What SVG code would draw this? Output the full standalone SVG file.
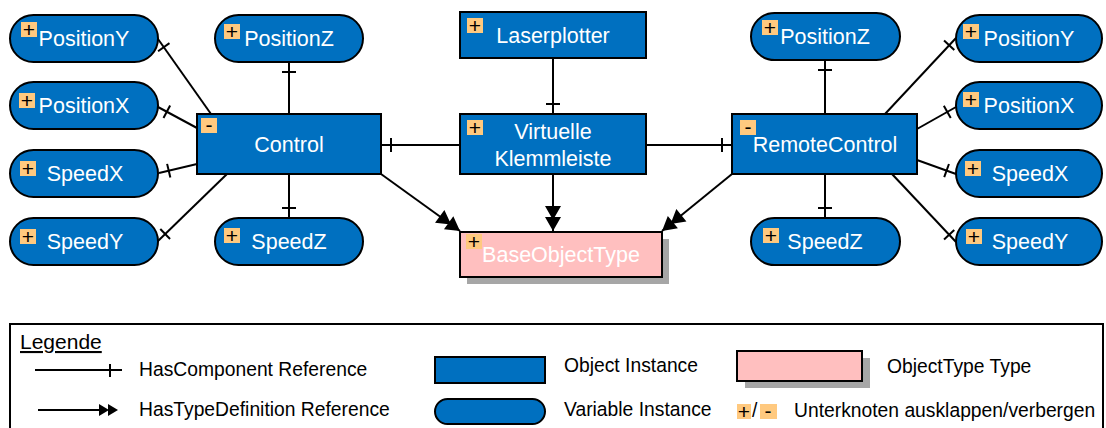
<svg xmlns="http://www.w3.org/2000/svg" width="1106" height="428" viewBox="0 0 1106 428">
<style>
.obj{fill:#0070C0;stroke:#000;stroke-width:2}
.typ{fill:#FFBFBF;stroke:#000;stroke-width:2}
.shd{fill:#A6A6A6}
.t{font-family:"Liberation Sans",Arial,sans-serif;font-size:21.5px;fill:#fff;text-anchor:middle}
.ic{fill:#FFC97F}
.it{font-family:"Liberation Sans",Arial,sans-serif;font-size:21px;fill:#000;text-anchor:middle}
.lg{font-family:"Liberation Sans",Arial,sans-serif;font-size:19.3px;fill:#000}
.c{stroke:#000;stroke-width:2;fill:none}
</style>
<defs>
<marker id="tick" markerUnits="userSpaceOnUse" viewBox="0 0 20 20" markerWidth="20" markerHeight="20" refX="20" refY="10" orient="auto" overflow="visible">
<path d="M10,3 L10,17" stroke="#000" stroke-width="2"/>
</marker>
<marker id="dbl" markerUnits="userSpaceOnUse" viewBox="0 0 26 16" markerWidth="26" markerHeight="16" refX="25" refY="8" orient="auto" overflow="visible">
<path d="M0,0 L14,8 L0,16 z M11,0 L25,8 L11,16 z" fill="#000"/>
</marker>
</defs>

<g id="connectors">
<path class="c" marker-end="url(#tick)" d="M211,114 L158,39"/>
<path class="c" marker-end="url(#tick)" d="M197,128 L158,107"/>
<path class="c" marker-end="url(#tick)" d="M197,164 L159,173"/>
<path class="c" marker-end="url(#tick)" d="M227,174 L158,241"/>
<path class="c" marker-end="url(#tick)" d="M289,114 L289,62"/>
<path class="c" marker-end="url(#tick)" d="M289,174 L289,218"/>
<path class="c" marker-end="url(#tick)" d="M460,145 L381,145"/>
<path class="c" marker-end="url(#tick)" d="M553,58 L553,114"/>
<path class="c" marker-end="url(#tick)" d="M646,145 L732,145"/>
<path class="c" marker-end="url(#tick)" d="M825,114 L825,60"/>
<path class="c" marker-end="url(#tick)" d="M825,174 L825,218"/>
<path class="c" marker-end="url(#tick)" d="M885,114 L956,38"/>
<path class="c" marker-end="url(#tick)" d="M917,129 L956,107"/>
<path class="c" marker-end="url(#tick)" d="M917,160 L956,174"/>
<path class="c" marker-end="url(#tick)" d="M892,174 L956,242"/>
<path class="c" marker-end="url(#dbl)" d="M381,174 L460,231"/>
<path class="c" marker-end="url(#dbl)" d="M553,174 L553,231"/>
<path class="c" marker-end="url(#dbl)" d="M732,174 L662,231"/>
</g>

<g id="positionY-left">
<rect class="obj" x="10" y="15" width="148" height="47" rx="23.5"/>
<rect class="ic" x="21" y="22" width="16" height="15"/><text class="it" x="29" y="37">+</text>
<text class="t" x="84" y="46">PositionY</text>
</g>
<g id="positionX-left">
<rect class="obj" x="10" y="82" width="148" height="47" rx="23.5"/>
<rect class="ic" x="19" y="93" width="16" height="15"/><text class="it" x="27" y="108">+</text>
<text class="t" x="84" y="113">PositionX</text>
</g>
<g id="speedX-left">
<rect class="obj" x="10" y="150" width="148" height="47" rx="23.5"/>
<rect class="ic" x="20" y="161" width="16" height="15"/><text class="it" x="28" y="176">+</text>
<text class="t" x="85" y="181">SpeedX</text>
</g>
<g id="speedY-left">
<rect class="obj" x="10" y="218" width="148" height="47" rx="23.5"/>
<rect class="ic" x="20" y="229" width="16" height="15"/><text class="it" x="28" y="244">+</text>
<text class="t" x="85" y="249">SpeedY</text>
</g>
<g id="positionZ-left">
<rect class="obj" x="215" y="15" width="148" height="47" rx="23.5"/>
<rect class="ic" x="224" y="24" width="16" height="15"/><text class="it" x="232" y="39">+</text>
<text class="t" x="289" y="46">PositionZ</text>
</g>
<g id="speedZ-left">
<rect class="obj" x="215" y="218" width="148" height="47" rx="23.5"/>
<rect class="ic" x="224" y="228" width="16" height="15"/><text class="it" x="232" y="243">+</text>
<text class="t" x="289" y="249">SpeedZ</text>
</g>
<g id="control">
<rect class="obj" x="197" y="114" width="184" height="60"/>
<rect class="ic" x="201" y="118" width="16" height="15"/><text class="it" x="209" y="132">-</text>
<text class="t" x="289" y="152">Control</text>
</g>
<g id="laserplotter">
<rect class="obj" x="460" y="12" width="186" height="46"/>
<rect class="ic" x="467" y="18" width="16" height="15"/><text class="it" x="475" y="33">+</text>
<text class="t" x="553" y="43">Laserplotter</text>
</g>
<g id="virtuelle-klemmleiste">
<rect class="obj" x="460" y="114" width="186" height="60"/>
<rect class="ic" x="467" y="120" width="16" height="15"/><text class="it" x="475" y="135">+</text>
<text class="t" x="553" y="139">Virtuelle</text>
<text class="t" x="553" y="166">Klemmleiste</text>
</g>
<g id="baseobjecttype">
<rect class="shd" x="467" y="239" width="202" height="45"/>
<rect class="typ" x="460" y="232" width="202" height="45"/>
<rect class="ic" x="466" y="234" width="16" height="15"/><text class="it" x="474" y="249">+</text>
<text class="t" x="561" y="262">BaseObjectType</text>
</g>
<g id="remotecontrol">
<rect class="obj" x="732" y="114" width="185" height="60"/>
<rect class="ic" x="740" y="120" width="16" height="15"/><text class="it" x="748" y="134">-</text>
<text class="t" x="825" y="152">RemoteControl</text>
</g>
<g id="positionZ-right">
<rect class="obj" x="751" y="13" width="149" height="47" rx="23.5"/>
<rect class="ic" x="762" y="20" width="16" height="15"/><text class="it" x="770" y="35">+</text>
<text class="t" x="825" y="44">PositionZ</text>
</g>
<g id="speedZ-right">
<rect class="obj" x="751" y="218" width="149" height="47" rx="23.5"/>
<rect class="ic" x="763" y="228" width="16" height="15"/><text class="it" x="771" y="243">+</text>
<text class="t" x="825" y="249">SpeedZ</text>
</g>
<g id="positionY-right">
<rect class="obj" x="956" y="15" width="146" height="47" rx="23.5"/>
<rect class="ic" x="963" y="24" width="16" height="15"/><text class="it" x="971" y="39">+</text>
<text class="t" x="1029" y="46">PositionY</text>
</g>
<g id="positionX-right">
<rect class="obj" x="956" y="82" width="146" height="47" rx="23.5"/>
<rect class="ic" x="963" y="92" width="16" height="15"/><text class="it" x="971" y="107">+</text>
<text class="t" x="1029" y="113">PositionX</text>
</g>
<g id="speedX-right">
<rect class="obj" x="956" y="150" width="146" height="47" rx="23.5"/>
<rect class="ic" x="965" y="161" width="16" height="15"/><text class="it" x="973" y="176">+</text>
<text class="t" x="1030" y="181">SpeedX</text>
</g>
<g id="speedY-right">
<rect class="obj" x="956" y="218" width="146" height="47" rx="23.5"/>
<rect class="ic" x="966" y="229" width="16" height="15"/><text class="it" x="974" y="244">+</text>
<text class="t" x="1030" y="249">SpeedY</text>
</g>

<g id="legend">
<rect x="10" y="324" width="1093" height="120" fill="none" stroke="#000" stroke-width="2"/>
<text class="lg" x="20" y="349" style="font-size:21px" text-decoration="underline">Legende</text>
<path d="M35,370 L122,370 M110,364 L110,377" stroke="#000" stroke-width="2" fill="none"/>
<text class="lg" x="139" y="376">HasComponent Reference</text>
<path d="M38,410 L104,410" stroke="#000" stroke-width="2" fill="none"/>
<path d="M99,404 L109,410 L99,416 z M108,404 L118,410 L108,416 z" fill="#000"/>
<text class="lg" x="139" y="416">HasTypeDefinition Reference</text>
<rect class="obj" x="435" y="357" width="110" height="26"/>
<text class="lg" x="564" y="372">Object Instance</text>
<rect class="obj" x="435" y="399" width="110" height="25" rx="12.5"/>
<text class="lg" x="564" y="416">Variable Instance</text>
<rect class="shd" x="745" y="358" width="125" height="30"/>
<rect class="typ" x="737" y="351" width="125" height="30"/>
<text class="lg" x="887" y="373">ObjectType Type</text>
<rect class="ic" x="737" y="404" width="14" height="15"/><text class="it" x="744" y="419">+</text>
<text class="lg" x="752" y="417">/</text>
<rect class="ic" x="760" y="404" width="17" height="15"/><text class="it" x="768" y="418">-</text>
<text class="lg" x="794" y="417">Unterknoten ausklappen/verbergen</text>
</g>
</svg>
